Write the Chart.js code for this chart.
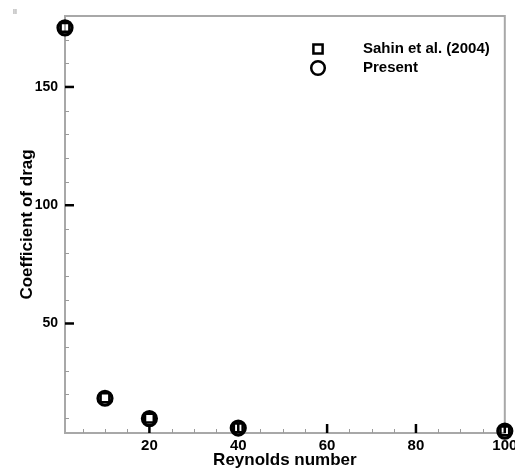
<!DOCTYPE html>
<html>
<head>
<meta charset="utf-8">
<script src="https://cdn.jsdelivr.net/npm/chart.js@4/dist/chart.umd.min.js"></script>
<style>
html,body{margin:0;padding:0;background:#fff;}
#wrap{width:515px;height:471px;position:relative;}
</style>
</head>
<body>
<div id="wrap"><canvas id="c" width="515" height="471"></canvas></div>
<script>
// ---- data ----
const reynolds = [1, 10, 20, 40, 100];
const sahinCd = [175.2, 18.6, 10.0, 5.9, 4.6];
const presentCd = [175.0, 18.4, 9.8, 5.8, 4.5];
const seriesLabels = ['Sahin et al. (2004)', 'Present'];
const xMajorTicks = [20, 40, 60, 80, 100];
const yMajorTicks = [50, 100, 150];
const xMinorStep = 5;
const yMinorStep = 10;
const xTitle = 'Reynolds number';
const yTitle = 'Coefficient of drag';

const FONT = '"Liberation Sans", Arial, sans-serif';

const frameAndTicks = {
  id: 'frameAndTicks',
  beforeDatasetsDraw(chart) {
    const ctx = chart.ctx;
    const a = chart.chartArea;
    const xs = chart.scales.x, ys = chart.scales.y;
    ctx.save();
    ctx.strokeStyle = '#a8a8a8';
    ctx.lineWidth = 2;
    ctx.strokeRect(a.left, a.top, a.right - a.left, a.bottom - a.top);
    ctx.strokeStyle = '#9a9a9a';
    ctx.lineWidth = 1;
    for (let v = xMinorStep; v < xs.max; v += xMinorStep) {
      if (xMajorTicks.includes(v)) continue;
      const px = Math.round(xs.getPixelForValue(v)) + 0.5;
      ctx.beginPath(); ctx.moveTo(px, a.bottom); ctx.lineTo(px, a.bottom - 4); ctx.stroke();
    }
    for (let v = yMinorStep; v < ys.max; v += yMinorStep) {
      if (yMajorTicks.includes(v)) continue;
      const py = Math.round(ys.getPixelForValue(v)) + 0.5;
      ctx.beginPath(); ctx.moveTo(a.left, py); ctx.lineTo(a.left + 4, py); ctx.stroke();
    }
    ctx.strokeStyle = '#000';
    ctx.lineWidth = 2.5;
    xMajorTicks.forEach(v => {
      const px = xs.getPixelForValue(v);
      ctx.beginPath(); ctx.moveTo(px, a.bottom); ctx.lineTo(px, a.bottom - 9); ctx.stroke();
    });
    yMajorTicks.forEach(v => {
      const py = ys.getPixelForValue(v);
      ctx.beginPath(); ctx.moveTo(a.left, py); ctx.lineTo(a.left + 9, py); ctx.stroke();
    });
    ctx.fillStyle = '#777';
    ctx.font = '7px ' + FONT;
    ctx.textBaseline = 'top';
    ctx.fillText('II', 13, 9);
    ctx.restore();
  }
};

const customLegend = {
  id: 'customLegend',
  afterDraw(chart) {
    const ctx = chart.ctx;
    ctx.save();
    const items = chart.data.datasets;
    const ys = [49, 68];
    items.forEach((ds, i) => {
      ctx.strokeStyle = '#000';
      ctx.fillStyle = 'rgba(0,0,0,0)';
      ctx.lineWidth = 2.5;
      Chart.helpers.drawPoint(ctx, {
        pointStyle: ds.pointStyle,
        radius: i === 0 ? 6.5 : 6.8,
        borderWidth: 2.5,
        rotation: 0
      }, 318, ys[i]);
      ctx.fillStyle = '#000';
      ctx.font = 'bold 15px ' + FONT;
      ctx.textBaseline = 'middle';
      ctx.textAlign = 'left';
      ctx.fillText(ds.label, 363, ys[i]);
    });
    ctx.restore();
  }
};

new Chart(document.getElementById('c'), {
  type: 'scatter',
  data: {
    datasets: [
      {
        label: seriesLabels[0],
        data: reynolds.map((x, i) => ({x: x, y: sahinCd[i]})),
        pointStyle: 'rect',
        pointRadius: 6.2,
        borderWidth: 2.5,
        borderColor: '#000',
        backgroundColor: 'rgba(255,255,255,0)',
        clip: false
      },
      {
        label: seriesLabels[1],
        data: reynolds.map((x, i) => ({x: x, y: presentCd[i]})),
        pointStyle: 'circle',
        pointRadius: 7,
        borderWidth: 3.2,
        borderColor: '#000',
        backgroundColor: 'rgba(255,255,255,0)',
        clip: false
      }
    ]
  },
  options: {
    responsive: false,
    animation: false,
    devicePixelRatio: 1,
    layout: { padding: { top: 16, right: 8, bottom: 0, left: 0 } },
    plugins: { legend: { display: false }, tooltip: { enabled: false } },
    scales: {
      x: {
        type: 'linear',
        min: 1, max: 100,
        border: { display: false },
        grid: { display: false, drawTicks: false },
        afterBuildTicks: s => { s.ticks = xMajorTicks.map(v => ({value: v})); },
        ticks: {
          color: '#000', padding: 4, maxRotation: 0,
          font: { family: FONT, size: 15, weight: 'bold' }
        },
        title: {
          display: true, text: xTitle, color: '#000', padding: {top: 0, bottom: 0},
          font: { family: FONT, size: 17, weight: 'bold' }
        },
        afterFit: s => { s.height = 38; s.paddingLeft = 0; s.paddingRight = 0; }
      },
      y: {
        type: 'linear',
        min: 3.7, max: 180,
        border: { display: false },
        grid: { display: false, drawTicks: false },
        afterBuildTicks: s => { s.ticks = yMajorTicks.map(v => ({value: v})); },
        ticks: {
          color: '#000', padding: 7,
          font: { family: FONT, size: 14, weight: 'bold' }
        },
        title: {
          display: true, text: yTitle, color: '#000', padding: {top: 17, bottom: 0},
          font: { family: FONT, size: 17, weight: 'bold' }
        },
        afterFit: s => { s.width = 65; s.paddingTop = 0; s.paddingBottom = 0; }
      }
    }
  },
  plugins: [frameAndTicks, customLegend]
});
</script>
</body>
</html>
